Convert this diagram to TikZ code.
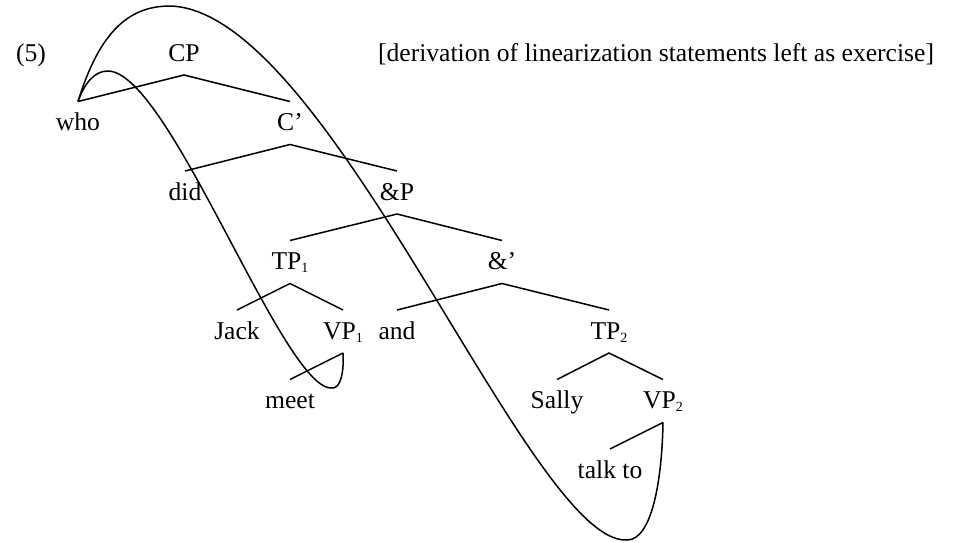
\documentclass[tikz,border=0pt]{standalone}
\usepackage{fontspec}
\setmainfont{Liberation Serif}
% small lowered index on category labels
\newcommand{\idx}[1]{\raisebox{-1.6pt}{\fontsize{7}{8}\selectfont #1}}
\begin{document}
\begin{tikzpicture}[x=0.5pt,y=-0.5pt,
  lab/.style={inner sep=0pt, outer sep=0pt, text height=14.5pt, text depth=7pt,
              font=\fontsize{12.8}{15}\selectfont},
  plain/.style={inner sep=0pt, outer sep=0pt, anchor=base, font=\fontsize{12.8}{15}\selectfont},
  branch/.style={line width=0.75pt},
  movement/.style={line width=0.75pt}]
\useasboundingbox (0,0) rectangle (968,542);

% example number and remark
\node[plain] (exno) at (31,61) {(5)};
\node[plain] (remark) at (656,61) {[derivation of linearization statements left as exercise]};

% tree nodes
\node[lab] (CP)    at (184,53.5)  {CP};
\node[lab] (who)   at (78,123)    {who};
\node[lab] (Cbar)  at (290,123)   {C’};
\node[lab] (did)   at (185,192.5) {did};
\node[lab] (andP)  at (397,192.5) {\&P};
\node[lab] (TPa)   at (290,262)   {TP\idx{1}};
\node[lab] (andbar) at (502,262)  {\&’};
\node[lab] (Jack)  at (237,331.5) {Jack};
\node[lab] (VPa)   at (343,331.5) {VP\idx{1}};
\node[lab] (andw)  at (397,331.5) {and};
\node[lab] (TPb)   at (609,331.5) {TP\idx{2}};
\node[lab] (meet)  at (290,401)   {meet};
\node[lab] (Sally) at (557,401)   {Sally};
\node[lab] (VPb)   at (663,401)   {VP\idx{2}};
\node[lab] (talk)  at (610,470.5) {talk to};

% branches
\draw[branch] (who.north) -- (CP.south) -- (Cbar.north);
\draw[branch] (did.north) -- (Cbar.south) -- (andP.north);
\draw[branch] (TPa.north) -- (andP.south) -- (andbar.north);
\draw[branch] (Jack.north) -- (TPa.south) -- (VPa.north);
\draw[branch] (meet.north) -- (VPa.south);
\draw[branch] (andw.north) -- (andbar.south) -- (TPb.north);
\draw[branch] (Sally.north) -- (TPb.south) -- (VPb.north);
\draw[branch] (talk.north) -- (VPb.south);

% movement loops
\draw[movement] (who.north) .. controls (85,82) and (95,71) .. (108,71)
  .. controls (170,72) and (285,395) .. (333,388)
  .. controls (341,387) and (344,372) .. (VPa.south);
\draw[movement] (who.north) .. controls (100,30) and (130,6) .. (170,6)
  .. controls (330,10) and (530,545) .. (627,540)
  .. controls (652,540) and (662,480) .. (VPb.south);
\end{tikzpicture}
\end{document}
